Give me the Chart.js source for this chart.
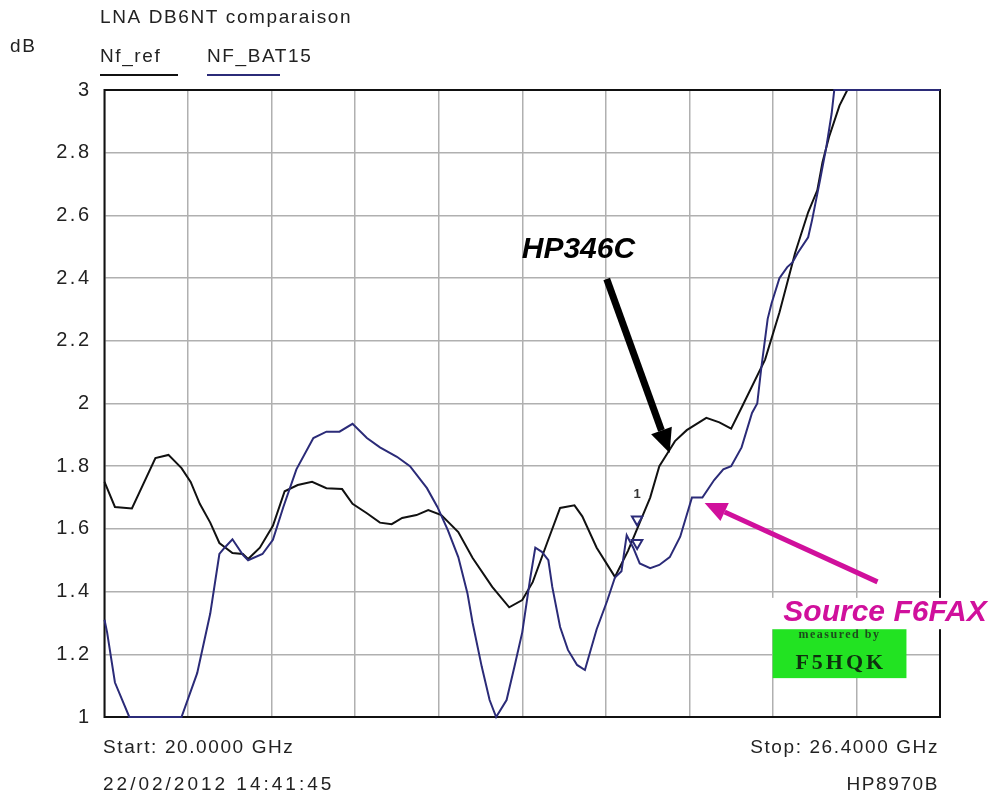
<!DOCTYPE html>
<html>
<head>
<meta charset="utf-8">
<script src="https://cdn.jsdelivr.net/npm/chart.js@4"></script>
<style>
  body { margin: 0; background: #fff; }
  canvas { display: block; }
</style>
</head>
<body>
<canvas id="nfChart" width="999" height="801"></canvas>
<script>
// Data (GHz, dB)
const refFreq = [20.00, 20.08, 20.21, 20.39, 20.49, 20.59, 20.66, 20.73, 20.81, 20.88, 20.98, 21.06, 21.10, 21.19,
  21.29, 21.38, 21.48, 21.59, 21.70, 21.82, 21.90, 22.01, 22.11, 22.20, 22.28, 22.39, 22.48, 22.58, 22.71, 22.82,
  22.97, 23.10, 23.20, 23.28, 23.39, 23.49, 23.60, 23.66, 23.77, 23.91, 24.01, 24.10, 24.18, 24.25, 24.31, 24.37,
  24.46, 24.61, 24.71, 24.80, 24.89, 25.06, 25.17, 25.29, 25.39, 25.46, 25.50, 25.55, 25.63, 25.69, 26.40];
const refNf = [1.75, 1.67, 1.665, 1.826, 1.836, 1.794, 1.75, 1.68, 1.62, 1.555, 1.523, 1.52, 1.504, 1.54,
  1.61, 1.72, 1.74, 1.75, 1.73, 1.727, 1.68, 1.65, 1.62, 1.615, 1.635, 1.644, 1.66, 1.644, 1.59, 1.507,
  1.415, 1.35, 1.373, 1.43, 1.555, 1.667, 1.675, 1.64, 1.54, 1.447, 1.53, 1.62, 1.70, 1.80, 1.84, 1.88,
  1.915, 1.954, 1.94, 1.92, 1.995, 2.14, 2.29, 2.48, 2.61, 2.68, 2.77, 2.85, 2.95, 3.0, 3.0];

const batFreq = [20.00, 20.02, 20.08, 20.19, 20.59, 20.71, 20.81, 20.88, 20.92, 20.98, 21.06, 21.10, 21.21, 21.29,
  21.37, 21.47, 21.60, 21.70, 21.80, 21.90, 22.01, 22.11, 22.24, 22.34, 22.47, 22.55, 22.63, 22.71, 22.78, 22.82,
  22.89, 22.95, 23.00, 23.08, 23.14, 23.20, 23.26, 23.30, 23.35, 23.40, 23.43, 23.49, 23.55, 23.62, 23.68, 23.77,
  23.85, 23.91, 23.96, 24.00, 24.05, 24.10, 24.18, 24.25, 24.33, 24.41, 24.50, 24.58, 24.67, 24.74, 24.80, 24.88,
  24.96, 25.00, 25.03, 25.08, 25.11, 25.17, 25.23, 25.27, 25.31, 25.39, 25.42, 25.48, 25.53, 25.57, 25.59, 26.40];
const batNf = [1.31, 1.27, 1.11, 1.0, 1.0, 1.14, 1.33, 1.52, 1.54, 1.567, 1.517, 1.50, 1.52, 1.565,
  1.67, 1.79, 1.89, 1.91, 1.91, 1.935, 1.89, 1.86, 1.83, 1.80, 1.73, 1.67, 1.596, 1.51, 1.395, 1.30,
  1.16, 1.054, 1.0, 1.054, 1.16, 1.27, 1.44, 1.54, 1.527, 1.50, 1.415, 1.287, 1.214, 1.166, 1.15, 1.28,
  1.37, 1.445, 1.465, 1.58, 1.54, 1.49, 1.475, 1.485, 1.51, 1.575, 1.70, 1.70, 1.756, 1.79, 1.80, 1.86,
  1.97, 2.0, 2.11, 2.27, 2.32, 2.40, 2.435, 2.45, 2.48, 2.53, 2.585, 2.71, 2.82, 2.925, 3.0, 3.0];

// marker "1" (two triangles on the traces)
const markerFreq = [24.08, 24.08];
const markerNf = [1.63, 1.555];

// axis
const xGrid = [20, 20.64, 21.28, 21.92, 22.56, 23.2, 23.84, 24.48, 25.12, 25.76, 26.4];
const yMin = 1, yMax = 3, yStep = 0.2;

const FONT = '"Liberation Sans", Arial, sans-serif';
const NAVY = '#2b2b78';
const PINK = '#d0109c';

function toXY(xs, ys) { return xs.map((x, i) => ({ x: x, y: ys[i] })); }

// ── decorations: frame, header, footer, annotations ──
const decorPlugin = {
  id: 'decor',
  beforeDraw(chart) {
    chart.ctx.letterSpacing = '2.5px';
  },
  beforeDatasetsDraw(chart) {
    const { ctx, chartArea: a } = chart;
    ctx.save();
    ctx.strokeStyle = '#111';
    ctx.lineWidth = 2;
    ctx.strokeRect(a.left, a.top, a.right - a.left, a.bottom - a.top);
    ctx.restore();
  },
  afterDraw(chart) {
    const { ctx, scales } = chart;
    const X = v => scales.x.getPixelForValue(v);
    const Y = v => scales.y.getPixelForValue(v);
    ctx.save();
    ctx.letterSpacing = '1.6px';
    ctx.fillStyle = '#222';
    ctx.font = '19px ' + FONT;
    ctx.textBaseline = 'middle';
    ctx.textAlign = 'left';
    ctx.fillText('LNA DB6NT comparaison', 100, 18);
    ctx.fillText('dB', 10, 47);
    ctx.fillText('Nf_ref', 100, 57);
    ctx.fillText('NF_BAT15', 207, 57);
    ctx.lineWidth = 2;
    ctx.strokeStyle = '#111';
    ctx.beginPath(); ctx.moveTo(100, 75); ctx.lineTo(178, 75); ctx.stroke();
    ctx.strokeStyle = NAVY;
    ctx.beginPath(); ctx.moveTo(207, 75); ctx.lineTo(280, 75); ctx.stroke();

    ctx.fillText('Start: 20.0000 GHz', 103, 748);
    ctx.textAlign = 'right';
    ctx.fillText('Stop: 26.4000 GHz', 939, 748);
    ctx.fillText('HP8970B', 939, 785);
    ctx.textAlign = 'left';
    ctx.letterSpacing = '3px';
    ctx.fillText('22/02/2012 14:41:45', 103, 785);

    // marker label
    ctx.textAlign = 'center';
    ctx.letterSpacing = '0px';
    ctx.font = 'bold 13px ' + FONT;
    ctx.fillStyle = '#333';
    ctx.fillText('1', X(24.08), Y(1.71));

    // green "measured by" stamp
    ctx.fillStyle = '#22e322';
    ctx.fillRect(X(25.118), Y(1.31), X(26.143) - X(25.118), Y(1.124) - Y(1.31));
    ctx.fillStyle = '#1d4a1d';
    ctx.font = 'bold 12px "Liberation Serif", serif';
    ctx.letterSpacing = '1.5px';
    ctx.fillText('measured by', X(25.63), Y(1.262));
    ctx.font = 'bold 22px "Liberation Serif", serif';
    ctx.letterSpacing = '3px';
    ctx.fillStyle = '#0f300f';
    ctx.fillText('F5HQK', X(25.64), Y(1.17));

    // white band behind the source label
    ctx.fillStyle = '#fff';
    ctx.fillRect(X(25.03), Y(1.38), 999 - X(25.03), Y(1.28) - Y(1.38));

    // annotation labels
    ctx.letterSpacing = '0px';
    ctx.textAlign = 'left';
    ctx.font = 'italic bold 30px ' + FONT;
    ctx.fillStyle = '#000';
    ctx.fillText('HP346C', X(23.196), Y(2.49));
    ctx.fillStyle = PINK;
    ctx.fillText('Source F6FAX', X(25.20), Y(1.331));

    drawArrow(ctx, X(23.847), Y(2.397), X(24.329), Y(1.842), '#000', 7, 24, 22);
    drawArrow(ctx, X(25.921), Y(1.431), X(24.597), Y(1.683), PINK, 5, 22, 20);
    ctx.restore();
  }
};

function drawArrow(ctx, x1, y1, x2, y2, color, w, headLen, headW) {
  const ang = Math.atan2(y2 - y1, x2 - x1);
  const bx = x2 - headLen * Math.cos(ang), by = y2 - headLen * Math.sin(ang);
  ctx.save();
  ctx.strokeStyle = color;
  ctx.fillStyle = color;
  ctx.lineWidth = w;
  ctx.beginPath(); ctx.moveTo(x1, y1); ctx.lineTo(bx, by); ctx.stroke();
  ctx.beginPath();
  ctx.moveTo(x2, y2);
  ctx.lineTo(bx + headW / 2 * Math.sin(ang), by - headW / 2 * Math.cos(ang));
  ctx.lineTo(bx - headW / 2 * Math.sin(ang), by + headW / 2 * Math.cos(ang));
  ctx.closePath();
  ctx.fill();
  ctx.restore();
}

new Chart(document.getElementById('nfChart').getContext('2d'), {
  type: 'line',
  data: {
    datasets: [
      { label: 'Nf_ref', data: toXY(refFreq, refNf), borderColor: '#111', borderWidth: 2, pointRadius: 0, tension: 0, clip: 3, order: 2 },
      { label: 'NF_BAT15', data: toXY(batFreq, batNf), borderColor: NAVY, borderWidth: 2, pointRadius: 0, tension: 0, clip: 3, order: 1 },
      { label: 'marker', data: toXY(markerFreq, markerNf), showLine: false, pointStyle: 'triangle', rotation: 180,
        pointRadius: 6, pointBorderWidth: 2, pointBorderColor: NAVY, pointBackgroundColor: '#fff', order: 0 }
    ]
  },
  options: {
    responsive: false,
    devicePixelRatio: 1,
    animation: false,
    layout: { padding: { top: 90, right: 59, left: 0, bottom: 0 } },
    plugins: { legend: { display: false }, tooltip: { enabled: false } },
    scales: {
      x: {
        type: 'linear', min: 20, max: 26.4,
        afterBuildTicks: s => { s.ticks = xGrid.map(v => ({ value: v })); },
        afterFit: s => { s.height = 84; },
        ticks: { display: false },
        grid: { color: '#b0b0b0', lineWidth: 1.5, drawTicks: false },
        border: { display: false }
      },
      y: {
        min: yMin, max: yMax,
        afterFit: s => { s.width = 104.5; },
        ticks: {
          stepSize: yStep,
          padding: 13,
          color: '#222',
          font: { family: FONT, size: 20 },
          callback: v => String(Math.round(v * 10) / 10)
        },
        grid: { color: '#b0b0b0', lineWidth: 1.5, drawTicks: false },
        border: { display: false }
      }
    }
  },
  plugins: [decorPlugin]
});
</script>
</body>
</html>
